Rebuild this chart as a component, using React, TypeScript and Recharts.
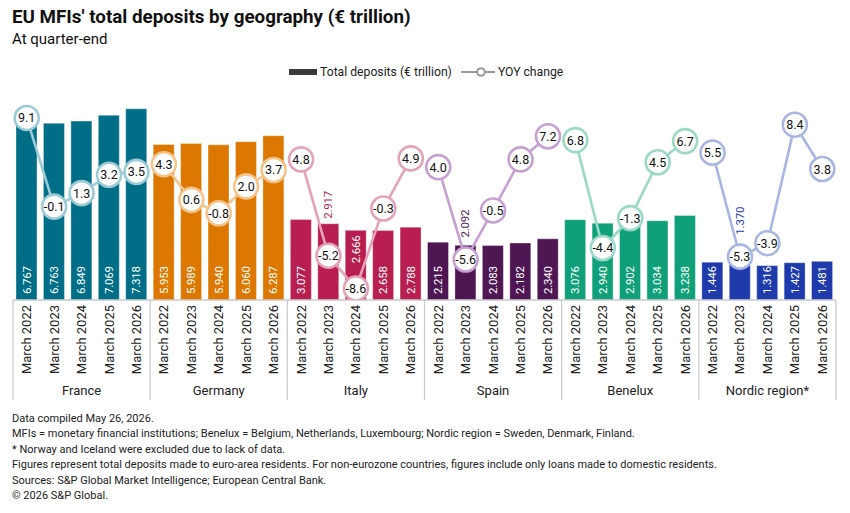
import React from 'react';
import {
  ComposedChart,
  Bar,
  Line,
  XAxis,
  YAxis,
  Cell,
  LabelList,
} from 'recharts';

// Deposits and YOY change per geography, March 2022 - March 2026
const periods = ['March 2022', 'March 2023', 'March 2024', 'March 2025', 'March 2026'];
const regions = ['France', 'Germany', 'Italy', 'Spain', 'Benelux', 'Nordic region*'];

const franceDeposits = [6.767, 6.763, 6.849, 7.069, 7.318];
const germanyDeposits = [5.953, 5.989, 5.94, 6.06, 6.287];
const italyDeposits = [3.077, 2.917, 2.666, 2.658, 2.788];
const spainDeposits = [2.215, 2.092, 2.083, 2.182, 2.34];
const beneluxDeposits = [3.076, 2.94, 2.902, 3.034, 3.238];
const nordicDeposits = [1.446, 1.37, 1.316, 1.427, 1.481];

const franceYoy = [9.1, -0.1, 1.3, 3.2, 3.5];
const germanyYoy = [4.3, 0.6, -0.8, 2.0, 3.7];
const italyYoy = [4.8, -5.2, -8.6, -0.3, 4.9];
const spainYoy = [4.0, -5.6, -0.5, 4.8, 7.2];
const beneluxYoy = [6.8, -4.4, -1.3, 4.5, 6.7];
const nordicYoy = [5.5, -5.3, -3.9, 8.4, 3.8];

const depositsByRegion = [
  franceDeposits,
  germanyDeposits,
  italyDeposits,
  spainDeposits,
  beneluxDeposits,
  nordicDeposits,
];
const yoyByRegion = [franceYoy, germanyYoy, italyYoy, spainYoy, beneluxYoy, nordicYoy];

const barColors = ['#006e87', '#dc7800', '#b81e50', '#4e1753', '#10a079', '#1f3aab'];
const lineColors = ['#9ccbd6', '#f5c48b', '#e4a3b7', '#c5a0d0', '#9bd9c7', '#a9b6e1'];

const data = regions.flatMap((region, r) =>
  periods.map((period, i) => ({
    key: `${region}-${period}`,
    period,
    region,
    regionIndex: r,
    deposits: depositsByRegion[r][i],
    yoy: yoyByRegion[r][i],
  }))
);

const FONT = 'Roboto, "Noto Sans", Arial, sans-serif';
const WIDTH = 850;
const CHART_H = 400;
const MARGIN = { top: 91, right: 14, left: 13, bottom: 0 };
const AXIS_H = 100;
const PLOT_TOP = MARGIN.top;
const PLOT_BOTTOM = CHART_H - MARGIN.bottom - AXIS_H;
const PLOT_W = WIDTH - MARGIN.left - MARGIN.right;
const BAND = PLOT_W / data.length;
const BAR_MAX = 8;
const YOY_MIN = -9.8;
const YOY_MAX = 11.9;
const CIRCLE_R = 12;
const VALUE_LABEL_LEN = 28;

const yoyToY = (v: number) =>
  PLOT_TOP + ((YOY_MAX - v) / (YOY_MAX - YOY_MIN)) * (PLOT_BOTTOM - PLOT_TOP);

// Value label inside the bar; moved to the top, or above bar and bubble, when a YOY bubble sits on it
const BarValueLabel = (props: any) => {
  const { x, y, width, height, value, index } = props;
  const row = data[index];
  const cx = x + width / 2;
  const circleY = yoyToY(row.yoy);
  const bottomStart = y + height - 6;
  const bottomEnd = bottomStart - VALUE_LABEL_LEN;
  let start = bottomStart;
  let fill = '#ffffff';
  if (circleY + CIRCLE_R + 1 > bottomEnd) {
    const topStart = y + 5 + VALUE_LABEL_LEN;
    if (height > VALUE_LABEL_LEN + 12 && circleY - CIRCLE_R - 1 > topStart) {
      start = topStart;
    } else {
      start = Math.min(y - 5, circleY - CIRCLE_R - 10);
      fill = barColors[row.regionIndex];
    }
  }
  return (
    <text
      x={cx}
      y={start}
      transform={`rotate(-90 ${cx} ${start})`}
      textAnchor="start"
      dominantBaseline="central"
      fontSize={11.5}
      letterSpacing={-0.2}
      fontFamily={FONT}
      fill={fill}
    >
      {Number(value).toFixed(3)}
    </text>
  );
};

const makeDot = (r: number) => (props: any) => {
  const { cx, cy, payload, index } = props;
  if (cx == null || cy == null || payload == null || payload.regionIndex !== r) {
    return <g key={`empty-${r}-${index}`} />;
  }
  return (
    <g key={`dot-${r}-${index}`}>
      <circle cx={cx} cy={cy} r={CIRCLE_R} fill="#ffffff" stroke={lineColors[r]} strokeWidth={2.6} />
      <text
        x={cx}
        y={cy}
        textAnchor="middle"
        dominantBaseline="central"
        fontSize={12.5}
        fontFamily={FONT}
        fill="#111"
      >
        {payload.yoy.toFixed(1)}
      </text>
    </g>
  );
};

// Period label rotated under each bar, plus group separators and region names
const PeriodTick = (props: any) => {
  const { x, payload } = props;
  const index = payload.index;
  const y0 = PLOT_BOTTOM;
  const pos = index % periods.length;
  return (
    <g>
      <text
        x={x}
        y={y0 + 5}
        transform={`rotate(-90 ${x} ${y0 + 5})`}
        textAnchor="end"
        dominantBaseline="central"
        fontSize={13}
        fontFamily={FONT}
        fill="#222"
      >
        {payload.value}
      </text>
      {pos === 0 && (
        <line x1={x - BAND / 2} x2={x - BAND / 2} y1={y0} y2={y0 + 100} stroke="#c9c9c9" strokeWidth={1.2} />
      )}
      {index === data.length - 1 && (
        <line x1={x + BAND / 2} x2={x + BAND / 2} y1={y0} y2={y0 + 100} stroke="#c9c9c9" strokeWidth={1.2} />
      )}
      {pos === 2 && (
        <text
          x={x}
          y={y0 + 90}
          textAnchor="middle"
          dominantBaseline="central"
          fontSize={13}
          fontFamily={FONT}
          fill="#222"
        >
          {data[index].region}
        </text>
      )}
    </g>
  );
};

const footnotes = [
  'Data compiled May 26, 2026.',
  'MFIs = monetary financial institutions; Benelux = Belgium, Netherlands, Luxembourg; Nordic region = Sweden, Denmark, Finland.',
  '* Norway and Iceland were excluded due to lack of data.',
  'Figures represent total deposits made to euro-area residents. For non-eurozone countries, figures include only loans made to domestic residents.',
  'Sources: S&P Global Market Intelligence; European Central Bank.',
  '\u00a9 2026 S&P Global.',
];

export default function App() {
  return (
    <div
      style={{
        position: 'absolute',
        left: 0,
        top: 0,
        width: WIDTH,
        height: 513,
        background: '#fff',
        fontFamily: FONT,
        color: '#111',
        overflow: 'hidden',
      }}
    >
      <div style={{ position: 'absolute', left: 12, top: 6, fontSize: 18.8, fontWeight: 700, whiteSpace: 'nowrap' }}>
        EU MFIs' total deposits by geography (€ trillion)
      </div>
      <div style={{ position: 'absolute', left: 12, top: 30, fontSize: 15, whiteSpace: 'nowrap' }}>
        At quarter-end
      </div>

      <div
        style={{
          position: 'absolute',
          left: 289,
          top: 65,
          display: 'flex',
          alignItems: 'center',
          fontSize: 12.2,
          color: '#222',
          whiteSpace: 'nowrap',
        }}
      >
        <span style={{ display: 'inline-block', width: 28, height: 6, background: '#3a3a3a', marginRight: 3 }} />
        <span>Total deposits (€ trillion)</span>
        <svg width={36} height={12} style={{ marginLeft: 8, marginRight: 2 }}>
          <line x1={1} x2={35} y1={6} y2={6} stroke="#9a9a9a" strokeWidth={2} />
          <circle cx={21} cy={6} r={3.8} fill="#fff" stroke="#9a9a9a" strokeWidth={2} />
        </svg>
        <span>YOY change</span>
      </div>

      <div style={{ position: 'absolute', left: 0, top: 0 }}>
        <ComposedChart width={WIDTH} height={CHART_H} data={data} margin={MARGIN} barCategoryGap={0}>
          <XAxis
            dataKey="key"
            xAxisId="x"
            height={AXIS_H}
            interval={0}
            axisLine={{ stroke: '#c9c9c9', strokeWidth: 1.5 }}
            tickLine={false}
            tick={(p: any) => <PeriodTick {...p} payload={{ ...p.payload, value: data[p.payload.index].period }} />}
          />
          <YAxis yAxisId="bars" hide domain={[0, BAR_MAX]} allowDataOverflow />
          <YAxis yAxisId="yoy" hide orientation="right" domain={[YOY_MIN, YOY_MAX]} allowDataOverflow />
          <Bar
            dataKey="deposits"
            xAxisId="x"
            yAxisId="bars"
            barSize={21}
            isAnimationActive={false}
            stroke="rgba(255,255,255,0.35)"
            strokeWidth={1}
          >
            {data.map((d) => (
              <Cell key={d.key} fill={barColors[d.regionIndex]} />
            ))}
            <LabelList dataKey="deposits" content={BarValueLabel} />
          </Bar>
          {regions.map((region, r) => (
            <Line
              key={region}
              xAxisId="x"
              yAxisId="yoy"
              dataKey={(d: any) => (d.regionIndex === r ? d.yoy : null)}
              stroke={lineColors[r]}
              strokeWidth={2.6}
              connectNulls={false}
              dot={makeDot(r)}
              activeDot={false}
              isAnimationActive={false}
            />
          ))}
        </ComposedChart>
      </div>

      <div
        style={{
          position: 'absolute',
          left: 12,
          top: 411,
          fontSize: 11,
          lineHeight: '15.4px',
          color: '#222',
          whiteSpace: 'nowrap',
        }}
      >
        {footnotes.map((t) => (
          <div key={t}>{t}</div>
        ))}
      </div>
    </div>
  );
}
